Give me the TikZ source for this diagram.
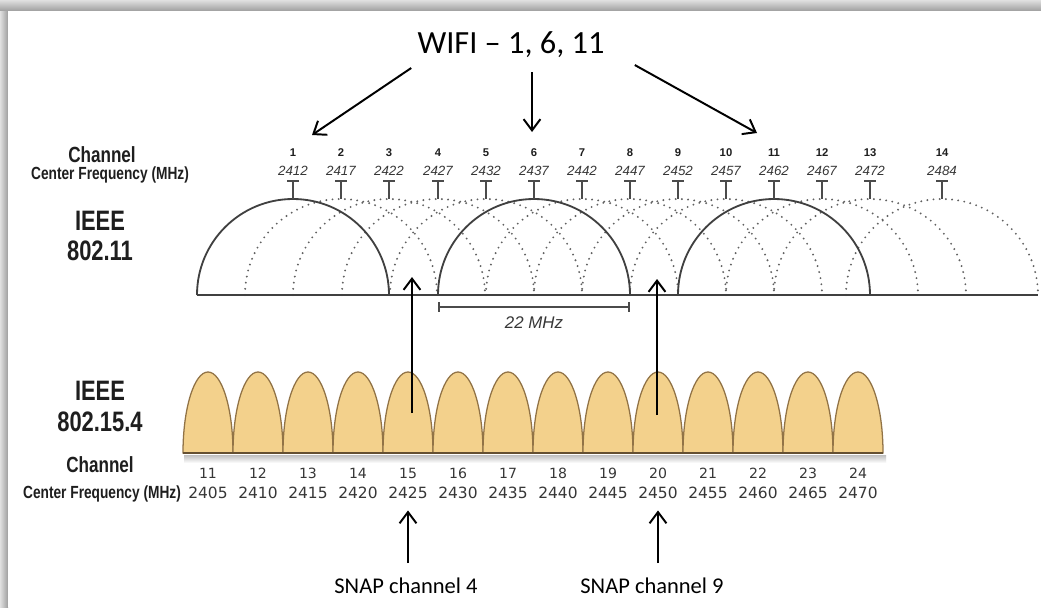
\documentclass[tikz,border=0pt]{standalone}
\usepackage{fontspec}
\setmainfont{Liberation Sans}
\newfontfamily\carlito{Carlito}
\newfontfamily\narrowsans[FakeStretch=0.78]{Liberation Sans}
\newfontfamily\dejavu{DejaVu Sans}
\usetikzlibrary{arrows.meta,positioning,calc}
\definecolor{ink}{RGB}{30,30,30}
\definecolor{graytext}{RGB}{55,55,55}
\definecolor{sand}{RGB}{243,209,140}
\definecolor{sandedge}{RGB}{145,115,70}
\tikzset{
  >={Straight Barb[length=8pt,width=12pt]},
  pointer/.style={->,line width=1.4pt,draw=black},
  title/.style={font=\carlito\fontsize{#1}{#1}\selectfont,anchor=base,inner sep=0pt},
  title/.default=23,
  head/.style={font=\narrowsans\bfseries\fontsize{#1}{#1}\selectfont,text=ink,anchor=base,inner sep=0pt},
  head/.default=15.6,
  wnum/.style={font=\bfseries\fontsize{8}{8}\selectfont,text=ink,anchor=base,inner sep=0pt},
  wfreq/.style={font=\itshape\fontsize{9.5}{10}\selectfont,text=graytext,anchor=base,inner sep=0pt},
  tee/.style={line width=1.1pt,draw=ink!80},
  band/.style={line width=1.3pt,draw=ink!85},
  dots/.style={line width=1.5pt,draw=ink!70,dash pattern=on 0pt off 4.4pt,line cap=round},
  lobe/.style={fill=sand,draw=sandedge,line width=0.9pt},
  znum/.style={font=\dejavu\fontsize{10}{11}\selectfont,text=graytext,anchor=base,inner sep=0pt},
  zfreq/.style={font=\dejavu\fontsize{11}{12}\selectfont,text=graytext,anchor=base,inner sep=0pt},
}
\begin{document}
\begin{tikzpicture}[x=0.025cm,y=0.025cm]
    \useasboundingbox (0,0) rectangle (1041,-607);
    % frame
    \shade[top color=black!12,bottom color=black!38] (0,0) rectangle (1041,-11);
    \shade[left color=black!12,right color=black!38] (0,-11) rectangle (8,-607);
    \fill[white] (8,-11) rectangle (1041,-607);
    % 802.11 side
    \node[title] (wifi) at (511,-53) {WIFI – 1, 6, 11};
    \node[head] (wchan) at (102,-162) {Channel};
    \node[head=12.5] (wcf) at (110,-179) {Center Frequency (MHz)};
    \node[head=20] (ieeea) at (100,-230) {IEEE};
    \node[head=20] (stda) at (100,-260) {802.11};
    \foreach \x in {341,389,438,486,582,630,678,726,822,870,942}
      \draw[dots] (\x-96,-295) arc (180:0:96);
    \foreach \x in {293,534,774}
      \draw[band] (\x-96,-295) arc (180:0:96);
    \draw[band] (197,-295) -- (1038,-295);
    \foreach \n/\x/\f in {1/293/2412,2/341/2417,3/389/2422,4/438/2427,5/486/2432,6/534/2437,7/582/2442,
        8/630/2447,9/678/2452,10/726/2457,11/774/2462,12/822/2467,13/870/2472,14/942/2484}{
      \node[wnum] (wch\n) at (\x,-156) {\n};
      \node[wfreq] (wf\n) at (\x,-175) {\f};
      \draw[tee] (\x-6,-181) -- (\x+6,-181) (\x,-181) -- (\x,-199);
    }
    \draw[{Bar[width=7pt]}-{Bar[width=7pt]},line width=1.2pt,draw=ink!80] (438,-307) -- (630,-307);
    \node[wfreq,font=\itshape\fontsize{12}{12}\selectfont] (mhz) at (534,-328) {22 MHz};
    % 802.15.4 side
    \node[head=20] (ieeeb) at (100,-400) {IEEE};
    \node[head=20] (stdb) at (100,-431) {802.15.4};
    \node[head] (zchan) at (100,-472) {Channel};
    \node[head=12.5] (zcf) at (102,-498) {Center Frequency (MHz)};
    \shade[top color=black!25,bottom color=white] (184,-455) rectangle (886,-463);
    \foreach \k/\f [count=\i from 0] in {11/2405,12/2410,13/2415,14/2420,15/2425,16/2430,17/2435,
        18/2440,19/2445,20/2450,21/2455,22/2460,23/2465,24/2470}{
      \draw[lobe] (208+50*\i-25,-453) arc (180:0:25 and 81) -- cycle;
      \node[znum] (zc\k) at (208+50*\i,-478) {\k};
      \node[zfreq] (zf\k) at (208+50*\i,-498) {\f};
    }
    \draw[line width=1.5pt,draw=sandedge!70!black] (183,-453) -- (883,-453);
    % pointers
    \coordinate (tip1) at (312,-135);
    \coordinate (tip6) at (532,-132);
    \coordinate (tip11) at (757,-133);
    \draw[pointer] ($(wifi.base west)+(-6,-15)$) -- (tip1);
    \draw[pointer] ($(wifi.base)+(21,-19)$) -- (tip6);
    \draw[pointer] ($(wifi.base east)+(30,-12)$) -- (tip11);
    \coordinate (in15) at (412,-413);
    \coordinate (gap15) at (412,-277);
    \coordinate (in20) at (657,-415);
    \coordinate (gap20) at (657,-279);
    \draw[pointer] (in15) -- (gap15);
    \draw[pointer] (in20) -- (gap20);
    \node[title=16] (snap4) at (406,-593) {SNAP channel 4};
    \node[title=16] (snap9) at (652,-593) {SNAP channel 9};
    \draw[pointer,shorten <=10pt,shorten >=8.5pt] (snap4.north -| zf15.south) -- (zf15.south);
    \draw[pointer,shorten <=10pt,shorten >=8.5pt] (snap9.north -| zf20.south) -- (zf20.south);
\end{tikzpicture}
\end{document}
